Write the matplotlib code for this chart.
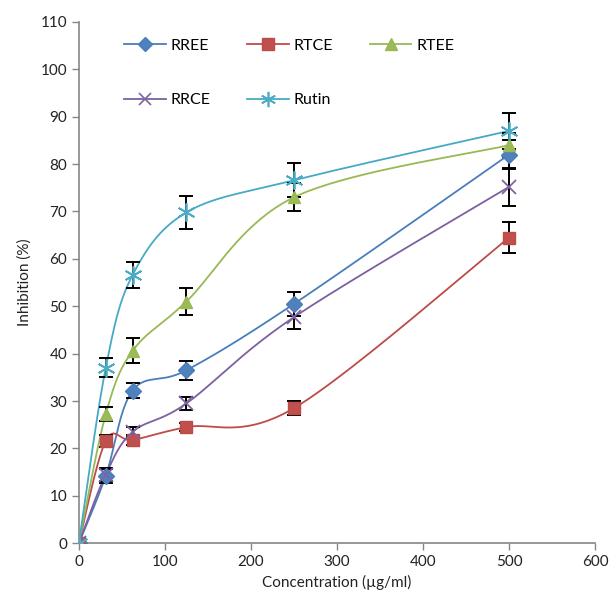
import numpy as np
import matplotlib
matplotlib.use("Agg")
import matplotlib.pyplot as plt
from matplotlib.lines import Line2D

plt.rcParams['font.family'] = ['Lato', 'DejaVu Sans']

conc = [0, 31.25, 62.5, 125, 250, 500]
names = ["RREE", "RTCE", "RTEE", "RRCE", "Rutin"]
rree = [0, 14.2, 32.2, 36.5, 50.5, 82.0]
rtce = [0, 21.6, 21.8, 24.5, 28.5, 64.5]
rtee = [0, 27.2, 40.6, 51.0, 73.0, 84.0]
rrce = [0, 14.5, 23.5, 29.5, 47.7, 75.2]
rutin = [0, 37.0, 56.6, 69.8, 76.6, 87.0]
err_rree = [0, 1.5, 1.6, 2.0, 2.6, 3.0]
err_rtce = [0, 1.2, 1.0, 0.8, 1.5, 3.2]
err_rtee = [0, 1.5, 2.6, 2.9, 3.0, 2.5]
err_rrce = [0, 1.4, 1.0, 1.3, 2.5, 4.0]
err_rutin = [0, 2.0, 2.8, 3.5, 3.6, 3.8]

series = [rree, rtce, rtee, rrce, rutin]
errs = [err_rree, err_rtce, err_rtee, err_rrce, err_rutin]
line_colors = ["#4A7EBB", "#BE4B48", "#98B954", "#7D60A0", "#46AAC5"]
face_colors = ["#4F81BD", "#C0504D", "#9BBB59", "#8064A2", "#4BACC6"]
markers = ["D", "s", "^", "x", (6, 2, 0)]
msizes = [8, 9, 9, 10, 13]

fig = plt.figure(figsize=(6.16, 6.09), dpi=100)
ax = fig.add_axes([0.128, 0.108, 0.838, 0.856])
ax.set_xlim(0, 600)
ax.set_ylim(0, 110)


def smooth(xs, ys, n=40):
    pts = ax.transData.transform(np.column_stack([xs, ys]))
    out = [pts[0]]
    m = len(pts)
    for i in range(m - 1):
        p0 = pts[i - 1] if i > 0 else pts[i]
        p1 = pts[i]
        p2 = pts[i + 1]
        p3 = pts[i + 2] if i + 2 < m else pts[i + 1]
        c1 = p1 + (p2 - p0) / 6.0
        c2 = p2 - (p3 - p1) / 6.0
        t = np.linspace(0, 1, n)[1:, None]
        b = ((1 - t) ** 3) * p1 + 3 * ((1 - t) ** 2) * t * c1 + 3 * (1 - t) * t ** 2 * c2 + t ** 3 * p2
        out.extend(b)
    out = np.array(out)
    d = ax.transData.inverted().transform(out)
    return d[:, 0], d[:, 1]


handles = []
for ys, e, lc, fc, mk, ms, nm in zip(series, errs, line_colors, face_colors, markers, msizes, names):
    sx, sy = smooth(conc, ys)
    ax.plot(sx, sy, color=lc, lw=1.3, zorder=2)
    ax.errorbar(conc[1:], ys[1:], yerr=e[1:], fmt='none', ecolor='black',
                elinewidth=1.4, capsize=5, capthick=1.4, zorder=3)
    if mk in ("x", (6, 2, 0)):
        ax.plot(conc, ys, linestyle='none', marker=mk, markersize=ms,
                color=fc, markeredgewidth=1.3, zorder=4)
        h = Line2D([], [], color=lc, lw=1.3, marker=mk, markersize=ms - 2,
                   markeredgecolor=fc, markeredgewidth=1.2)
    else:
        ax.plot(conc, ys, linestyle='none', marker=mk, markersize=ms,
                markerfacecolor=fc, markeredgecolor=lc, zorder=4)
        h = Line2D([], [], color=lc, lw=1.3, marker=mk, markersize=ms - 1,
                   markerfacecolor=fc, markeredgecolor=lc)
    handles.append(h)

ax.set_xticks(range(0, 601, 100))
ax.set_yticks(range(0, 111, 10))
ax.tick_params(axis='both', direction='out', length=5, color='#868686',
               labelsize=11, labelcolor='#222222', width=1)
for s in ['top', 'right']:
    ax.spines[s].set_visible(False)
for s in ['left', 'bottom']:
    ax.spines[s].set_color('#868686')
    ax.spines[s].set_linewidth(1.2)
ax.spines['left'].set_bounds(0, 110)

ax.set_xlabel("Concentration (µg/ml)", fontsize=11, color='#222222', labelpad=4)
ax.set_ylabel("Inhibition (%)", fontsize=11, color='#222222', labelpad=6)

# row-wise legend order: RREE RTCE RTEE / RRCE Rutin
order = [0, 3, 1, 4, 2]
leg = ax.legend([handles[i] for i in order], [names[i] for i in order], ncol=3,
                loc='upper left', bbox_to_anchor=(0.06, 0.995),
                frameon=False, fontsize=11.5, handlelength=2.6, labelspacing=2.5,
                columnspacing=2.3, handletextpad=0.3)

fig.savefig("out.png", dpi=100)
